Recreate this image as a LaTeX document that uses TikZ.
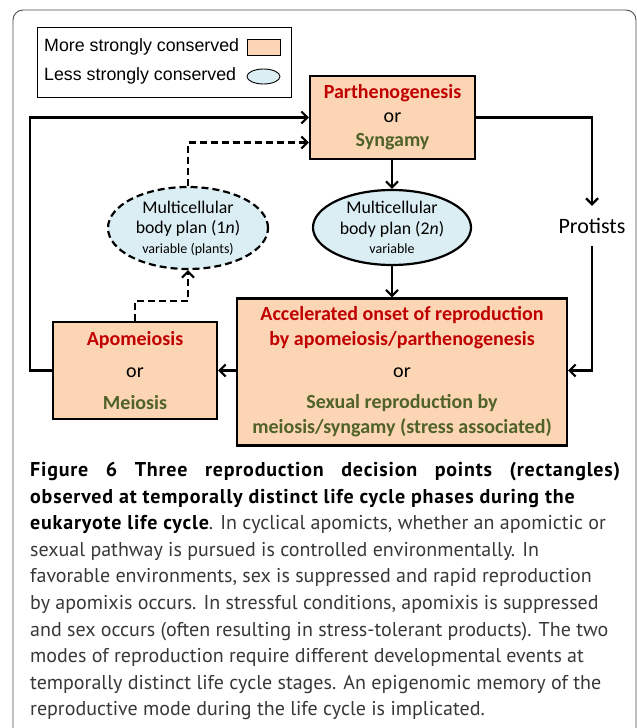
\documentclass[tikz,border=0pt]{standalone}
\usepackage{fontspec}
\usepackage{xcolor}
\usepackage{tikz}
\usetikzlibrary{positioning, shapes.geometric, arrows.meta}
\setmainfont{Carlito}
\newfontfamily\legendfont{Liberation Sans}
\newfontfamily\capfont{PT Sans}
\newfontfamily\capbold{PT Sans Bold}[LetterSpace=4]
\definecolor{boxfill}{HTML}{FCD5B4}
\definecolor{ellfill}{HTML}{DBEEF3}
\definecolor{redtext}{HTML}{C00000}
\definecolor{greentext}{HTML}{4F6228}

\begin{document}
\begin{tikzpicture}[
        x=1pt, y=-1pt,
        every node/.style={inner sep=0pt},
        decision/.style={rectangle, draw, line width=2.2pt, fill=boxfill, align=center},
        bodyplan/.style={ellipse, draw, line width=2.2pt, fill=ellfill, align=center, font=\fontsize{17.8}{20.5}\selectfont},
        flow/.style={-{Straight Barb[length=6pt, width=12pt]}, line width=2.2pt},
        broken/.style={dash pattern=on 7pt off 4pt},
    ]
        \useasboundingbox (0,0) rectangle (637,728);
        \draw[black!70, line width=0.9pt, rounded corners=10pt] (13,10) rectangle (636,745);

        % Legend
        \node[draw, line width=1.4pt, minimum width=254, minimum height=70, anchor=north west] (legend) at (37,27) {};
        \node[anchor=west, font=\legendfont\fontsize{17.8}{20}\selectfont] (moretxt) at (44,47) {More strongly conserved};
        \node[draw, line width=0.9pt, fill=boxfill, minimum width=33, minimum height=16] (moreswatch) at (263.5,47) {};
        \node[anchor=west, font=\legendfont\fontsize{17.8}{20}\selectfont] (lesstxt) at (44,76) {Less strongly conserved};
        \node[ellipse, draw, line width=0.9pt, fill=ellfill, minimum width=33, minimum height=15] (lessswatch) at (263.5,76.5) {};

        % Nodes
        \node[decision, minimum width=165, minimum height=83, font=\fontsize{20}{24}\selectfont] (fusion) at (392.5,117.5)
            {\textcolor{redtext}{\bfseries Parthenogenesis}\\ or\\ \textcolor{greentext}{\bfseries Syngamy}};
        \node[bodyplan, minimum width=158, minimum height=75] (diploid) at (392,227.5)
            {Multicellular\\ body plan (2\textit{n})\\[-1pt] {\fontsize{14}{16}\selectfont variable}};
        \node[decision, minimum width=330, minimum height=147, font=\fontsize{20}{25}\selectfont] (onset) at (402,372)
            {\textcolor{redtext}{\bfseries Accelerated onset of reproduction}\\
             \textcolor{redtext}{\bfseries by apomeiosis/parthenogenesis}\\[7pt]
             or\\[6pt]
             \textcolor{greentext}{\bfseries Sexual reproduction by}\\
             \textcolor{greentext}{\bfseries meiosis/syngamy (stress associated)}};
        \node[decision, minimum width=164, minimum height=97, font=\fontsize{20}{24}\selectfont] (meiosis) at (135,370.5)
            {\textcolor{redtext}{\bfseries Apomeiosis}\\[8pt] or\\[8pt] \textcolor{greentext}{\bfseries Meiosis}};
        \node[bodyplan, broken, minimum width=160, minimum height=82] (haploid) at (188,228)
            {Multicellular\\ body plan (1\textit{n})\\[-1pt] {\fontsize{14}{16}\selectfont variable (plants)}};
        \node[minimum height=40, font=\fontsize{22}{26}\selectfont] (protists) at (592,226) {Protists};

        % Arrows
        \draw[flow] (fusion.south -| diploid) -- (diploid.north);
        \draw[flow] (diploid.south) -- (diploid.south |- onset.north);
        \draw[flow] (fusion.east) -| (protists.north);
        \draw[flow] (protists.south) |- (onset.east |- meiosis.east);
        \draw[flow] (onset.west |- meiosis.east) -- (meiosis.east);
        \draw[flow] (meiosis.west) -- ++(-22,0) |- (fusion.west);
        \draw[flow, broken] (meiosis.north) -- ++(0,-20) -| (haploid.south);
        \draw[flow, broken] (haploid.north) |- ([yshift=-25pt]fusion.west);

        % Caption
        \node[anchor=north west, align=left, font=\capfont\fontsize{20}{26.6}\selectfont, text=black!78] (caption) at (30,462)
            {\makebox[590pt][s]{\textcolor{black}{\capbold Figure 6 Three reproduction decision points (rectangles)}}\\
             \textcolor{black}{\capbold observed at temporally distinct life cycle phases during the}\\
             \textcolor{black}{\capbold eukaryote life cycle}. In cyclical apomicts, whether an apomictic or\\
             sexual pathway is pursued is controlled environmentally. In\\
             favorable environments, sex is suppressed and rapid reproduction\\
             by apomixis occurs. In stressful conditions, apomixis is suppressed\\
             and sex occurs (often resulting in stress-tolerant products). The two\\
             modes of reproduction require different developmental events at\\
             temporally distinct life cycle stages. An epigenomic memory of the\\
             reproductive mode during the life cycle is implicated.};
    \end{tikzpicture}
\end{document}
